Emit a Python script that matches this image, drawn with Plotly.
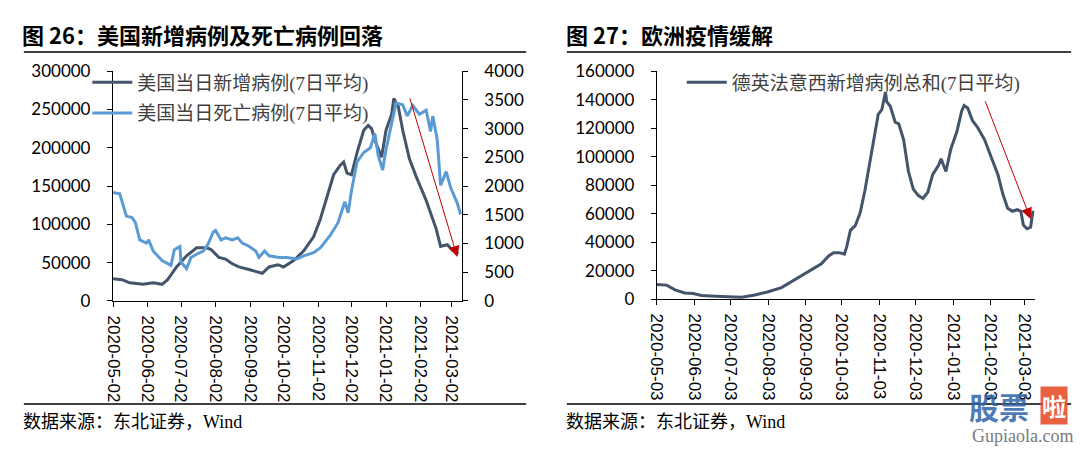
import plotly.graph_objects as go

# ---------------- data ----------------
us_new_dates = [
    "2020-05-02", "2020-05-10", "2020-05-17", "2020-05-29", "2020-06-07", "2020-06-15",
    "2020-06-20", "2020-06-28", "2020-07-07", "2020-07-16", "2020-07-25", "2020-07-29",
    "2020-08-05", "2020-08-11", "2020-08-17", "2020-08-23", "2020-09-01", "2020-09-08",
    "2020-09-13", "2020-09-19", "2020-09-27", "2020-10-02", "2020-10-11", "2020-10-20",
    "2020-10-29", "2020-11-04", "2020-11-10", "2020-11-16", "2020-11-22", "2020-11-25",
    "2020-11-28", "2020-12-02", "2020-12-07", "2020-12-13", "2020-12-17", "2020-12-20",
    "2020-12-24", "2020-12-29", "2021-01-02", "2021-01-07", "2021-01-09", "2021-01-13",
    "2021-01-17", "2021-01-23", "2021-01-29", "2021-02-07", "2021-02-16", "2021-02-20",
    "2021-02-26", "2021-03-02", "2021-03-08",
]
us_new_cases = [
    29000, 27800, 23700, 21700, 23700, 21700,
    27800, 44400, 58900, 69300, 69300, 67200,
    56800, 54700, 48500, 44400, 41000, 38200,
    36100, 44400, 47300, 44400, 52700, 65200,
    83800, 106600, 135600, 164700, 177200, 181300,
    166800, 164700, 193700, 222800, 229000, 224900,
    206200, 187500, 222800, 243500, 264300, 253900,
    222800, 185400, 162600, 131400, 94100, 71300,
    73400, 67200, 62000,
]

us_death_dates = [
    "2020-05-02", "2020-05-08", "2020-05-14", "2020-05-19", "2020-05-22", "2020-05-26",
    "2020-06-01", "2020-06-03", "2020-06-07", "2020-06-15", "2020-06-23", "2020-06-26",
    "2020-07-01", "2020-07-02", "2020-07-07", "2020-07-11", "2020-07-16", "2020-07-22",
    "2020-07-26", "2020-07-31", "2020-08-02", "2020-08-07", "2020-08-11", "2020-08-17",
    "2020-08-22", "2020-08-26", "2020-09-01", "2020-09-07", "2020-09-10", "2020-09-15",
    "2020-09-19", "2020-09-28", "2020-10-05", "2020-10-14", "2020-10-20", "2020-10-29",
    "2020-11-04", "2020-11-13", "2020-11-20", "2020-11-26", "2020-11-29", "2020-12-02",
    "2020-12-07", "2020-12-13", "2020-12-19", "2020-12-23", "2020-12-26", "2020-12-30",
    "2021-01-02", "2021-01-07", "2021-01-11", "2021-01-17", "2021-01-21", "2021-01-26",
    "2021-02-01", "2021-02-07", "2021-02-11", "2021-02-13", "2021-02-17", "2021-02-20",
    "2021-02-25", "2021-03-01", "2021-03-07", "2021-03-10",
]
us_deaths = [
    1890, 1865, 1477, 1450, 1367, 1062,
    1007, 1062, 869, 703, 619, 891,
    947, 675, 564, 758, 813, 869,
    979, 1200, 1228, 1062, 1100, 1062,
    1100, 1007, 952, 869, 758, 869,
    786, 758, 758, 730, 786, 841,
    924, 1145, 1367, 1726, 1533, 1920,
    2418, 2584, 2667, 2916, 2529, 2280,
    2639, 3082, 3442, 3414, 3220, 3400,
    3250, 3320, 2950, 3220, 2800, 2010,
    2250, 1975, 1698, 1505,
]

eu_dates = [
    "2020-05-03", "2020-05-11", "2020-05-18", "2020-05-26", "2020-06-02", "2020-06-09",
    "2020-06-20", "2020-07-04", "2020-07-12", "2020-07-23", "2020-08-03", "2020-08-14",
    "2020-08-25", "2020-09-05", "2020-09-16", "2020-09-22", "2020-09-26", "2020-10-01",
    "2020-10-05", "2020-10-07", "2020-10-10", "2020-10-14", "2020-10-18", "2020-10-22",
    "2020-10-27", "2020-10-31", "2020-11-02", "2020-11-05", "2020-11-08", "2020-11-09",
    "2020-11-12", "2020-11-16", "2020-11-19", "2020-11-23", "2020-11-27", "2020-12-01",
    "2020-12-05", "2020-12-09", "2020-12-13", "2020-12-17", "2020-12-22", "2020-12-24",
    "2020-12-28", "2021-01-01", "2021-01-06", "2021-01-10", "2021-01-12", "2021-01-15",
    "2021-01-19", "2021-01-23", "2021-01-29", "2021-02-03", "2021-02-09", "2021-02-13",
    "2021-02-17", "2021-02-21", "2021-02-25", "2021-02-28", "2021-03-02", "2021-03-05",
    "2021-03-08", "2021-03-10",
]
eu_new_cases = [
    10250, 9800, 6460, 4230, 3900, 2450,
    2000, 1780, 1340, 2900, 5130, 8030,
    13600, 19200, 24750, 30300, 32500, 32570,
    31470, 37000, 48200, 51500, 60400, 76200,
    100600, 121900, 129700, 133000, 145300, 138600,
    135300, 124100, 123000, 111800, 89500, 77200,
    72800, 70600, 75000, 87300, 94000, 98400,
    89500, 105200, 117400, 131900, 135900, 134100,
    125200, 120700, 111800, 100600, 87300, 73900,
    63800, 61600, 62700, 61600, 52000, 49300,
    50400, 62000,
]

us_tick_dates = [
    "2020-05-02", "2020-06-02", "2020-07-02", "2020-08-02", "2020-09-02", "2020-10-02",
    "2020-11-02", "2020-12-02", "2021-01-02", "2021-02-02", "2021-03-02",
]
eu_tick_dates = [
    "2020-05-03", "2020-06-03", "2020-07-03", "2020-08-03", "2020-09-03", "2020-10-03",
    "2020-11-03", "2020-12-03", "2021-01-03", "2021-02-03", "2021-03-03",
]

us_new_name = "美国当日新增病例(7日平均)"
us_death_name = "美国当日死亡病例(7日平均)"
eu_name = "德英法意西新增病例总和(7日平均)"

# trend arrows (tail -> head), in data units
us_arrow_tail = ("2021-01-23", 266400)
us_arrow_head = ("2021-03-07", 57300)
eu_arrow_tail = ("2021-01-29", 139900)
eu_arrow_head = ("2021-03-08", 56200)

# ---------------- style ----------------
W, H = 1080, 455
DARK = "#44546A"
LIGHT = "#5B9BD5"
RED = "#C00000"
CJK_SERIF = "Liberation Serif, Noto Sans CJK SC"
CJK_SANS = "Noto Sans CJK SC"
NUM_FONT = "Lato, Liberation Sans"
DATE_FONT = "Liberation Sans, Arial"


def px(x):
    return x / W


def py(y):
    return 1 - y / H


fig = go.Figure()

fig.add_trace(go.Scatter(
    x=us_new_dates, y=us_new_cases, name=us_new_name, mode="lines",
    line=dict(color=DARK, width=3), xaxis="x", yaxis="y", legend="legend",
    legendgroup="a",
))
fig.add_trace(go.Scatter(
    x=us_death_dates, y=us_deaths, name=us_death_name, mode="lines",
    line=dict(color=LIGHT, width=3), xaxis="x", yaxis="y2", legend="legend",
    legendgroup="b",
))
fig.add_trace(go.Scatter(
    x=eu_dates, y=eu_new_cases, name=eu_name, mode="lines",
    line=dict(color=DARK, width=3), xaxis="x2", yaxis="y3", legend="legend2",
))

axis_common = dict(
    showgrid=False, zeroline=False, showline=True, linecolor="black", linewidth=1.3,
    ticks="outside", ticklen=5, tickcolor="black", tickwidth=1.3,
)

fig.update_layout(
    width=W, height=H,
    margin=dict(l=0, r=0, t=0, b=0),
    paper_bgcolor="white", plot_bgcolor="white",
    showlegend=True,
    xaxis=dict(
        domain=[px(104), px(456)], range=["2020-05-02", "2021-03-11"], anchor="y",
        tickvals=us_tick_dates, ticktext=us_tick_dates, tickangle=90,
        tickfont=dict(family=DATE_FONT, size=17, color="black"), ticklabelstandoff=5,
        **axis_common,
    ),
    yaxis=dict(
        domain=[py(304), py(63)], range=[0, 300000], dtick=50000, tickformat="d",
        anchor="x", tickfont=dict(family=NUM_FONT, size=17, color="black"),
        ticklabelstandoff=13, **axis_common,
    ),
    yaxis2=dict(
        overlaying="y", side="right", range=[0, 4000], dtick=500, tickformat="d",
        anchor="x", tickfont=dict(family=NUM_FONT, size=17, color="black"),
        ticklabelstandoff=13, **axis_common,
    ),
    xaxis2=dict(
        domain=[px(653), px(1035)], range=["2020-05-03", "2021-03-12"], anchor="y3",
        tickvals=eu_tick_dates, ticktext=eu_tick_dates, tickangle=90,
        tickfont=dict(family=DATE_FONT, size=17, color="black"), ticklabelstandoff=5,
        **axis_common,
    ),
    yaxis3=dict(
        domain=[py(302), py(63)], range=[0, 160000], dtick=20000, tickformat="d",
        anchor="x2", tickfont=dict(family=NUM_FONT, size=17, color="black"),
        ticklabelstandoff=13, **axis_common,
    ),
    legend=dict(
        x=px(78), y=py(55), xanchor="left", yanchor="top",
        bgcolor="rgba(0,0,0,0)", font=dict(family=CJK_SERIF, size=19, color="#404040"),
        tracegroupgap=3, itemwidth=40,
    ),
    legend2=dict(
        x=px(678), y=py(55), xanchor="left", yanchor="top",
        bgcolor="rgba(0,0,0,0)", font=dict(family=CJK_SERIF, size=19, color="#404040"),
        itemwidth=40,
    ),
)

# trend arrows
for (tx, ty), (hx, hy), xr, yr in [
    (us_arrow_tail, us_arrow_head, "x", "y"),
    (eu_arrow_tail, eu_arrow_head, "x2", "y3"),
]:
    fig.add_annotation(
        x=hx, y=hy, ax=tx, ay=ty, xref=xr, yref=yr, axref=xr, ayref=yr,
        text="", showarrow=True, arrowhead=2, arrowsize=2.2, arrowwidth=1,
        arrowcolor=RED, standoff=0, startstandoff=0,
    )

# titles, footers
texts = [
    (10, 24, "<b>图 26：美国新增病例及死亡病例回落</b>", CJK_SANS, 22, "black"),
    (559, 24, "<b>图 27：欧洲疫情缓解</b>", CJK_SANS, 22, "black"),
    (11, 431, "数据来源：东北证券，Wind", CJK_SERIF, 18, "black"),
    (559, 431, "数据来源：东北证券，Wind", CJK_SERIF, 18, "black"),
]
for x, y, t, fam, sz, col in texts:
    fig.add_annotation(
        x=px(x), y=py(y), xref="paper", yref="paper", xanchor="left", yanchor="middle",
        text=t, showarrow=False, font=dict(family=fam, size=sz, color=col),
    )

# separator rules
for x0, x1, y in [(14, 521, 43), (562, 1071, 43), (14, 521, 412), (562, 1071, 412)]:
    fig.add_shape(
        type="line", xref="paper", yref="paper",
        x0=px(x0), x1=px(x1), y0=py(y), y1=py(y),
        line=dict(color="black", width=1.6),
    )

# watermark
fig.add_annotation(
    x=px(998), y=py(414), xref="paper", yref="paper", xanchor="center", yanchor="middle",
    text="<b>股票</b>", showarrow=False,
    font=dict(family=CJK_SANS, size=30, color="rgba(46,99,168,0.85)"),
)
fig.add_annotation(
    x=px(1054), y=py(414), xref="paper", yref="paper", xanchor="center", yanchor="middle",
    text="<b>啦</b>", showarrow=False, bgcolor="rgba(232,80,45,0.9)", borderpad=1,
    font=dict(family=CJK_SANS, size=24, color="white"),
)
fig.add_annotation(
    x=px(1022), y=py(446), xref="paper", yref="paper", xanchor="center", yanchor="middle",
    text="Gupiaola.com", showarrow=False,
    font=dict(family="Liberation Serif", size=18, color="#7a7a7a"),
)

fig.write_html(
    "out.html",
    config={"displayModeBar": False},
    post_script="document.body.style.margin='0';document.body.style.overflow='hidden';",
)
